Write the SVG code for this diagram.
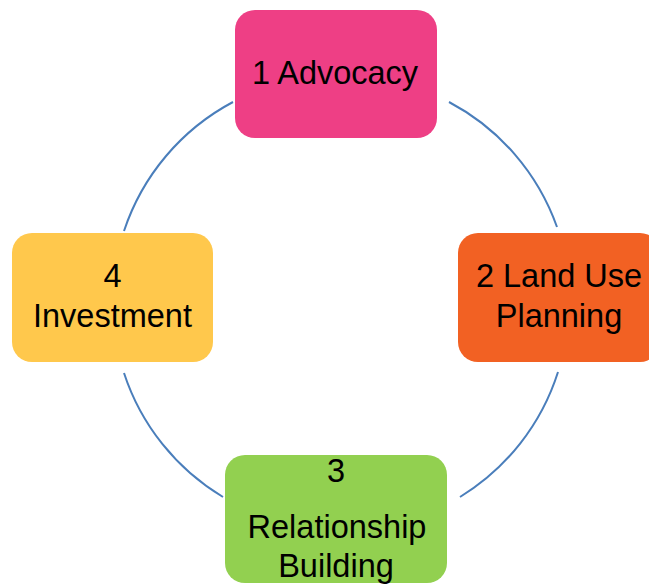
<svg xmlns="http://www.w3.org/2000/svg" width="649" height="586" viewBox="0 0 649 586">
  <style>
    .arc { fill: none; stroke: #4A7EBB; stroke-width: 2; }
    .lbl { font-family: "Liberation Sans", Arial, sans-serif; font-size: 32.5px; fill: #000; text-anchor: middle; }
  </style>
  <rect width="649" height="586" fill="#ffffff"/>
  <g id="connectors">
    <path class="arc" d="M 449 102 A 227 227 0 0 1 557 227"/>
    <path class="arc" d="M 558 372 A 227 227 0 0 1 460 497"/>
    <path class="arc" d="M 223 497 A 227 227 0 0 1 124 373"/>
    <path class="arc" d="M 124 231 A 227 227 0 0 1 233 102"/>
  </g>
  <g id="node1">
    <rect x="235" y="10" width="202" height="128" rx="20" fill="#EE3F85"/>
    <text class="lbl" x="335" y="84">1 Advocacy</text>
  </g>
  <g id="node2">
    <rect x="458" y="233" width="202" height="129" rx="20" fill="#F26123"/>
    <text class="lbl" x="559" y="287">2 Land Use</text>
    <text class="lbl" x="559" y="327">Planning</text>
  </g>
  <g id="node3">
    <rect x="225" y="455" width="222" height="128" rx="20" fill="#92D050"/>
    <text class="lbl" x="336" y="482">3</text>
    <text class="lbl" x="337" y="538">Relationship</text>
    <text class="lbl" x="336" y="577">Building</text>
  </g>
  <g id="node4">
    <rect x="12" y="233" width="201" height="129" rx="20" fill="#FFC84C"/>
    <text class="lbl" x="112.5" y="287">4</text>
    <text class="lbl" x="112.5" y="327">Investment</text>
  </g>
</svg>
